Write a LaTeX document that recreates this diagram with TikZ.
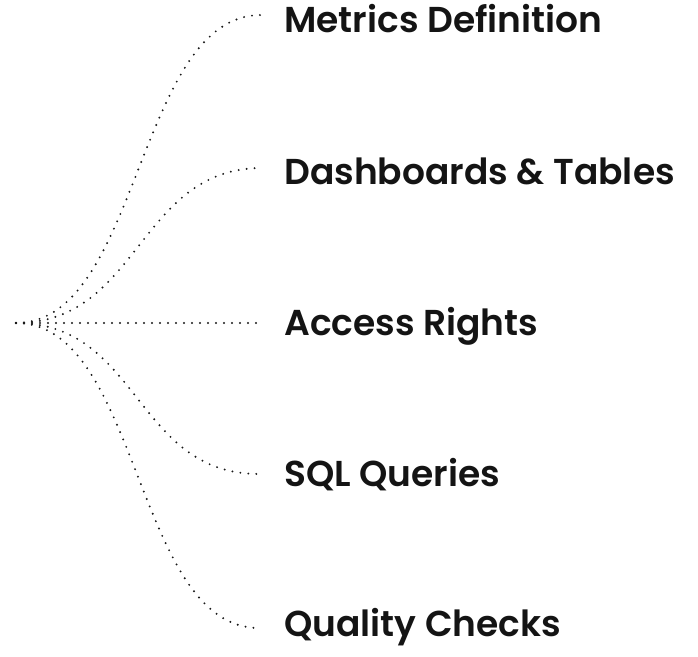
\documentclass[tikz,border=0pt]{standalone}
\usepackage{fontspec}
\setmainfont{Poppins}[BoldFont={Poppins SemiBold}]
\tikzset{
  branch/.style={line width=1.6pt, line cap=round, dash pattern=on 0pt off 6pt, black!90},
  topic/.style={anchor=base west, inner sep=0pt, font=\fontsize{27}{32}\selectfont\bfseries, text=black!92}
}
\begin{document}
\begin{tikzpicture}[x=0.75pt, y=-0.75pt]
\useasboundingbox (0,0) rectangle (698,656);

% Root of the fan
\coordinate (root) at (16,323);

% Topic labels
\node[topic] (metrics) at (284,33) {Metrics Definition};
\node[topic] (dash) at (284,184) {Dashboards \& Tables};
\node[topic] (access) at (284,335) {Access Rights};
\node[topic] (sql) at (284,486) {SQL Queries};
\node[topic] (quality) at (284,636) {Quality Checks};

% Loose ends of the branches
\coordinate (e1) at (261,15);
\coordinate (e2) at (262,168);
\coordinate (e3) at (262,323);
\coordinate (e4) at (259,474);
\coordinate (e5) at (259,628);

% Dotted branches
\foreach \e in {e1,e2,e3,e4,e5}
  \draw[branch] (root) .. controls +(124,0) and +(-124,0) .. (\e);
\end{tikzpicture}
\end{document}
